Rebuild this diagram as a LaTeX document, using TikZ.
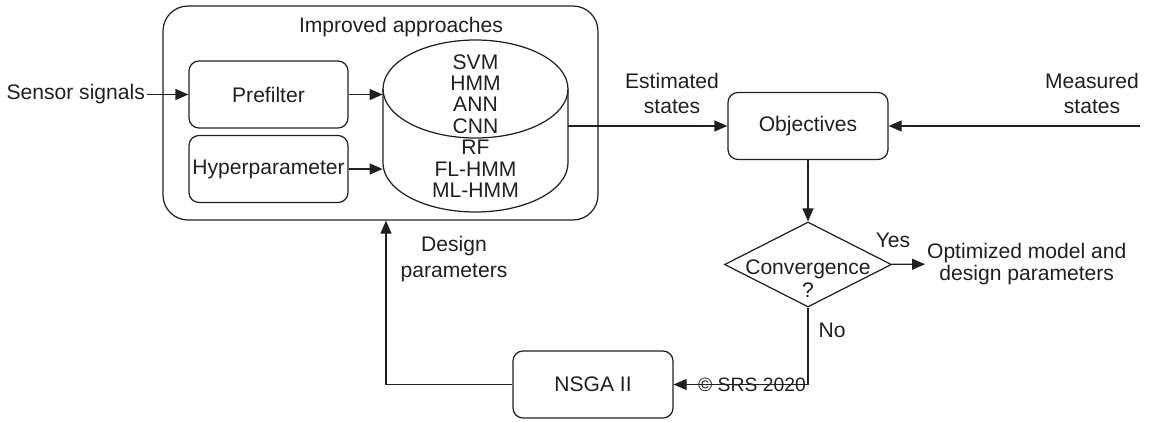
\documentclass[tikz,border=0pt]{standalone}
\usepackage{fontspec}
\setmainfont{Liberation Sans}
\usepackage{xcolor}
\usetikzlibrary{arrows.meta,shapes.geometric,positioning}
\definecolor{ink}{RGB}{35,31,32}

\begin{document}
\begin{tikzpicture}[
  every node/.style={text=ink, font=\fontsize{12}{14.4}\selectfont},
  box/.style={draw=ink, line width=0.7pt, rounded corners=0.2cm, minimum width=3.2cm, minimum height=1.34cm},
  lbl/.style={align=center, inner sep=1pt},
  arr/.style={draw=ink, line width=0.7pt, -{Triangle[length=0.26cm,width=0.22cm]}}
]
\useasboundingbox (0,0) rectangle (23,8.42);

\node[draw=ink, line width=0.7pt, rounded corners=0.5cm, minimum width=8.7cm, minimum height=4.28cm] (outer) at (7.61,6.16) {};
\node[lbl] (title) at (8.02,7.88) {Improved approaches};
\node[box, minimum width=3.18cm] (prefilter) at (5.37,6.53) {Prefilter};
\node[box, minimum width=3.18cm, inner sep=1pt] (hyper) at (5.37,5.04) {Hyperparameter};

% cylinder
\draw[ink, line width=0.7pt] (7.66,6.64) -- (7.66,5.16) arc (180:360:1.85 and 0.98) -- (11.36,6.64);
\draw[ink, line width=0.7pt] (9.51,6.64) ellipse (1.85 and 0.98);
\node[lbl, minimum width=3.7cm, minimum height=3.44cm, font=\fontsize{12}{12.2}\selectfont] (models) at (9.51,5.9) {SVM\\HMM\\ANN\\CNN\\RF\\FL-HMM\\ML-HMM};

\node[lbl, anchor=east] (sensor) at (2.94,6.53) {Sensor signals};
\draw[arr] (sensor) -- (prefilter);
\draw[arr] (prefilter) -- (prefilter -| models.west);
\draw[arr] (hyper) -- (hyper -| models.west);

\node[box] (objectives) at (16.16,5.9) {Objectives};
\node[lbl] (estimated) at (13.44,6.55) {Estimated\\states};
\node[lbl] (measured) at (21.84,6.55) {Measured\\states};
\coordinate (meas) at (22.8,5.9);
\draw[arr] (models.east |- objectives) -- (objectives);
\draw[arr] (meas) -- (objectives);

\node[draw=ink, line width=0.7pt, diamond, inner sep=0pt, minimum width=3.34cm, minimum height=1.7cm,
  label={[lbl, yshift=-0.28cm, font=\fontsize{12}{13}\selectfont]center:Convergence\\?}] (conv) at (16.16,3.13) {};
\draw[arr] (objectives) -- (conv);
\node[lbl] (yes) at (17.86,3.62) {Yes};
\node[lbl, anchor=west, font=\fontsize{12}{12.5}\selectfont] (optim) at (18.5,3.14) {Optimized model and\\design parameters};
\draw[arr] (conv) -- (optim);

\node[box] (nsga) at (11.86,0.73) {NSGA II};
\node[lbl] (no) at (16.64,1.82) {No};
\draw[arr] (conv) |- (nsga);
\node[lbl, font=\fontsize{11}{13}\selectfont] (srs) at (15.04,0.72) {© SRS 2020};

\draw[arr] (nsga) -| ([xshift=0.11cm]outer.south);
\node[lbl] (design) at (9.08,3.24) {Design\\parameters};
\end{tikzpicture}
\end{document}
